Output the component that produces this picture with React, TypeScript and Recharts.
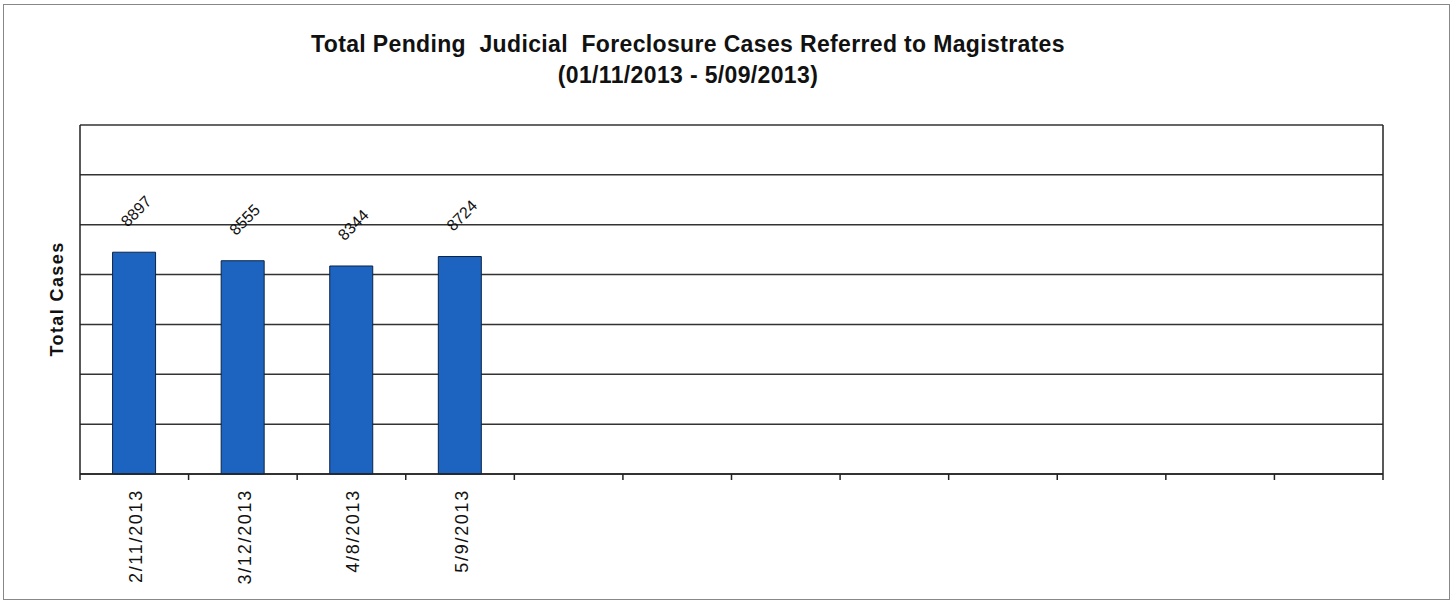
import React from 'react';
import { BarChart, Bar, XAxis, YAxis, CartesianGrid, LabelList, Label } from 'recharts';

const categories = ['2/11/2013', '3/12/2013', '4/8/2013', '5/9/2013', '', '', '', '', '', '', '', ''];
const totalCases: (number | null)[] = [8897, 8555, 8344, 8724, null, null, null, null, null, null, null, null];
const yTicks = [0, 2000, 4000, 6000, 8000, 10000, 12000, 14000];
const titleLines = ['Total Pending  Judicial  Foreclosure Cases Referred to Magistrates', '(01/11/2013 - 5/09/2013)'];
const yLabel = 'Total Cases';

const data = categories.map((c, i) => ({ date: c, cases: totalCases[i] }));

const FONT = '"Liberation Sans", Arial, sans-serif';
const W = 1455;
const H = 603;
const BANDS = categories.length;
const PLOT_LEFT = 80;
const PLOT_RIGHT = 1383;

const XTick = (props: any) => {
  const { x, payload, index } = props;
  const step = (PLOT_RIGHT - PLOT_LEFT) / BANDS;
  const left = x - step / 2;
  const axisY = 474;
  return (
    <g>
      <line x1={left} y1={axisY} x2={left} y2={axisY + 6} stroke="#222" strokeWidth={1.5} />
      {index === BANDS - 1 && (
        <line x1={left + step} y1={axisY} x2={left + step} y2={axisY + 6} stroke="#222" strokeWidth={1.5} />
      )}
      {payload.value ? (
        <text
          x={0}
          y={0}
          transform={`translate(${x + 2},${axisY + 15}) rotate(-90)`}
          textAnchor="end"
          dominantBaseline="central"
          fontFamily={FONT}
          fontSize={18}
          letterSpacing={1.7}
          fill="#111"
        >
          {payload.value}
        </text>
      ) : null}
    </g>
  );
};

const ValueLabel = (props: any) => {
  const { x, y, width, value } = props;
  if (value === null || value === undefined) return null;
  const cx = x + width / 2 + 2;
  const cy = y - 41;
  return (
    <text
      x={0}
      y={0}
      transform={`translate(${cx},${cy}) rotate(-45)`}
      textAnchor="middle"
      dominantBaseline="central"
      fontFamily={FONT}
      fontSize={16}
      fill="#111"
    >
      {value}
    </text>
  );
};

const NoTick = () => <g />;

export default function App() {
  return (
    <div style={{ position: 'absolute', left: 0, top: 0, width: W, height: H, background: '#fff' }}>
      <div
        style={{
          position: 'absolute',
          left: 3,
          top: 4,
          width: 1447,
          height: 596,
          border: '1.5px solid #888',
          boxSizing: 'border-box',
        }}
      />
      <div
        style={{
          position: 'absolute',
          left: 0,
          top: 29,
          width: 1376,
          textAlign: 'center',
          fontFamily: FONT,
          fontWeight: 'bold',
          fontSize: 23,
          letterSpacing: 0.35,
          lineHeight: '31px',
          color: '#111',
          whiteSpace: 'pre',
        }}
      >
        <div>{titleLines[0]}</div>
        <div>{titleLines[1]}</div>
      </div>
      <div style={{ position: 'absolute', left: 0, top: 0 }}>
        <BarChart
          width={W}
          height={H}
          data={data}
          margin={{ top: 125, right: 71, bottom: 128, left: 79 }}
          barCategoryGap="30%"
        >
          <CartesianGrid vertical={false} stroke="#333" strokeWidth={1.5} />
          <XAxis
            dataKey="date"
            height={1}
            axisLine={{ stroke: '#222', strokeWidth: 1.5 }}
            tickLine={false}
            tick={<XTick />}
            interval={0}
          />
          <YAxis
            width={1}
            domain={[0, 14000]}
            ticks={yTicks}
            tick={<NoTick />}
            tickLine={false}
            axisLine={{ stroke: '#222', strokeWidth: 1.5 }}
          >
            <Label
              content={() => (
                <text
                  x={0}
                  y={0}
                  transform={`translate(57,299) rotate(-90)`}
                  textAnchor="middle"
                  dominantBaseline="central"
                  fontFamily={FONT}
                  fontWeight="bold"
                  fontSize={18}
                  letterSpacing={1.4}
                  fill="#111"
                >
                  {yLabel}
                </text>
              )}
            />
          </YAxis>
          <YAxis
            yAxisId="right"
            orientation="right"
            width={1}
            domain={[0, 14000]}
            ticks={yTicks}
            tick={<NoTick />}
            tickLine={false}
            axisLine={{ stroke: '#222', strokeWidth: 1.5 }}
          />
          <Bar dataKey="cases" fill="#1d64c0" stroke="#0b2447" strokeWidth={1} isAnimationActive={false}>
            <LabelList dataKey="cases" content={<ValueLabel />} />
          </Bar>
        </BarChart>
      </div>
    </div>
  );
}
